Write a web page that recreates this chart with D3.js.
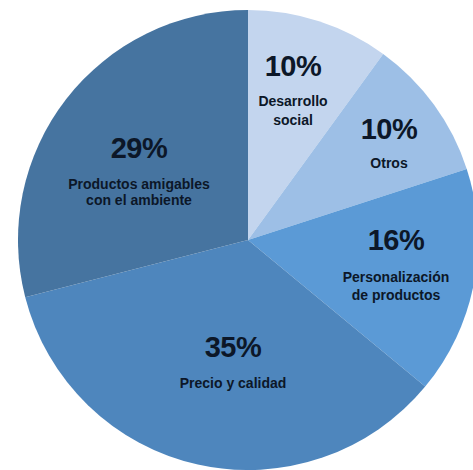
<!DOCTYPE html>
<html>
<head>
<meta charset="utf-8">
<script src="https://cdn.jsdelivr.net/npm/d3@7"></script>
<style>
html,body{margin:0;padding:0;background:#fff;overflow:hidden;}
svg{display:block;}
</style>
</head>
<body>
<svg id="chart" width="473" height="470"></svg>
<script>
const categories = ["Desarrollo social", "Otros", "Personalización de productos", "Precio y calidad", "Productos amigables con el ambiente"];
const values = [10, 10, 16, 35, 29];
const labelLines = [["Desarrollo", "social"], ["Otros"], ["Personalización", "de productos"], ["Precio y calidad"], ["Productos amigables", "con el ambiente"]];
const colors = ["#c3d5ee", "#9dbfe6", "#5b9ad6", "#4e86bd", "#4674a0"];

// layout (label anchors: x center, baseline of percent, gap to first line, line spacing)
const labelLayout = [
  {x: 293, y: 76, first: 30, step: 19},
  {x: 389, y: 139, first: 29, step: 19},
  {x: 396, y: 250, first: 32, step: 18},
  {x: 233, y: 357, first: 31, step: 19},
  {x: 139, y: 158, first: 31, step: 16}
];

const svg = d3.select("#chart");
const cx = 248, cy = 240, r = 230;
const g = svg.append("g").attr("transform", `translate(${cx},${cy})`);

const pie = d3.pie().sort(null).value(d => d.v);
const arcs = pie(values.map((v, i) => ({v, i})));
const arc = d3.arc().innerRadius(0).outerRadius(r);
const color = d3.scaleOrdinal().domain(categories).range(colors);

g.selectAll("path").data(arcs).join("path")
  .attr("d", arc)
  .attr("fill", d => color(categories[d.data.i]));

const txt = svg.append("g").attr("fill", "#0c1728").attr("text-anchor", "middle");
arcs.forEach((d, i) => {
  const L = labelLayout[i];
  txt.append("text")
    .attr("x", L.x).attr("y", L.y)
    .attr("font-family", "'Liberation Sans', Arial, sans-serif")
    .attr("font-weight", "bold").attr("font-size", 29)
    .attr("letter-spacing", -0.5)
    .text(d3.format(".0%")(d.data.v / 100));
  labelLines[i].forEach((line, j) => {
    txt.append("text")
      .attr("x", L.x).attr("y", L.y + L.first + j * L.step)
      .attr("font-family", "'Liberation Sans', Arial, sans-serif")
      .attr("font-weight", "bold").attr("font-size", 14)
      .text(line);
  });
});
</script>
</body>
</html>
